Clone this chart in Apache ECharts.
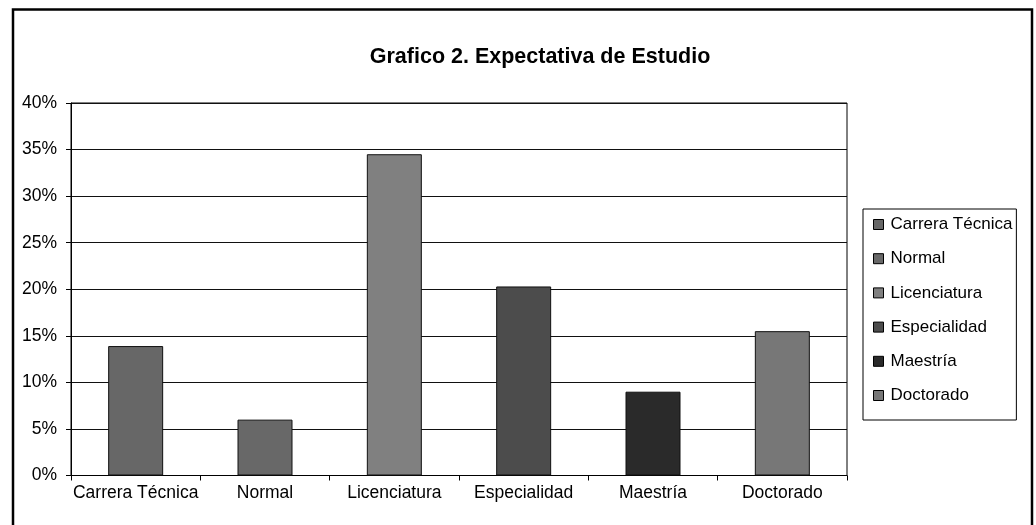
<!DOCTYPE html>
<html>
<head>
<meta charset="utf-8">
<script src="https://cdn.jsdelivr.net/npm/echarts@6/dist/echarts.min.js"></script>
<style>
  html, body { margin: 0; padding: 0; background: #fff; }
  #main { width: 1036px; height: 525px; }
</style>
</head>
<body>
<div id="main"></div>
<script>
var categories = ["Carrera Técnica", "Normal", "Licenciatura", "Especialidad", "Maestría", "Doctorado"];
var values = [0.139, 0.060, 0.345, 0.203, 0.090, 0.155];
var yTicks = [0, 0.05, 0.1, 0.15, 0.2, 0.25, 0.3, 0.35, 0.4];

var barColors = ["#676767", "#686868", "#808080", "#4c4c4c", "#2a2a2a", "#777777"];
var fontFam = '"Liberation Sans Narrow", "Arial Narrow", "Liberation Sans", Arial, sans-serif';

var myChart = echarts.init(document.getElementById("main"));

// una serie por categoria para que la leyenda muestre cada barra
var series = categories.map(function(name, i) {
  var d = categories.map(function(c, j) {
    return j === i ? values[i] : null;
  });
  return {
    name: name,
    type: "bar",
    stack: "todo",
    barWidth: 55,
    data: d,
    itemStyle: {
      color: barColors[i],
      borderColor: "#111",
      borderWidth: 1
    }
  };
});

option = {
  animation: false,
  title: {
    text: "Grafico 2. Expectativa de Estudio",
    left: 535,
    top: 41,
    textAlign: "center",
    textStyle: {
      fontFamily: fontFam,
      fontSize: 21.5,
      fontWeight: "bold",
      color: "#000"
    }
  },
  legend: {
    orient: "vertical",
    left: 863,
    top: 209,
    width: 158,
    height: 213,
    padding: [7, 4, 16, 10],
    itemGap: 17.2,
    itemWidth: 10,
    itemHeight: 10,
    icon: "rect",
    borderColor: "#000",
    borderWidth: 1,
    data: categories,
    itemStyle: { borderColor: "#000", borderWidth: 1 },
    textStyle: {
      fontFamily: fontFam,
      fontSize: 17,
      color: "#000",
      padding: [0, 0, 0, 2]
    }
  },
  grid: {
    left: 71,
    right: 189,
    top: 103,
    bottom: 49.5,
    show: true,
    borderColor: "#000",
    borderWidth: 1
  },
  xAxis: {
    type: "category",
    data: categories,
    axisLine: { lineStyle: { color: "#000", width: 1 } },
    axisTick: { show: true, length: 5, lineStyle: { color: "#000" } },
    axisLabel: {
      interval: 0,
      margin: 9,
      fontFamily: fontFam,
      fontSize: 17.5,
      color: "#000"
    }
  },
  yAxis: {
    type: "value",
    min: 0,
    max: yTicks[yTicks.length - 1],
    interval: 0.05,
    axisLine: { show: true, lineStyle: { color: "#000", width: 1 } },
    axisTick: { show: true, length: 5, lineStyle: { color: "#000" } },
    splitLine: { lineStyle: { color: "#111", width: 1.2 } },
    axisLabel: {
      margin: 14,
      fontFamily: fontFam,
      fontSize: 17.5,
      color: "#000",
      formatter: function(v) {
        return Math.round(v * 100) + "%";
      }
    }
  },
  graphic: [
    {
      type: "rect",
      shape: { x: 13, y: 9.5, width: 1019, height: 530 },
      style: { fill: "none", stroke: "#000", lineWidth: 2.5 },
      silent: true
    }
  ],
  series: series
};
myChart.setOption(option);
</script>
</body>
</html>
